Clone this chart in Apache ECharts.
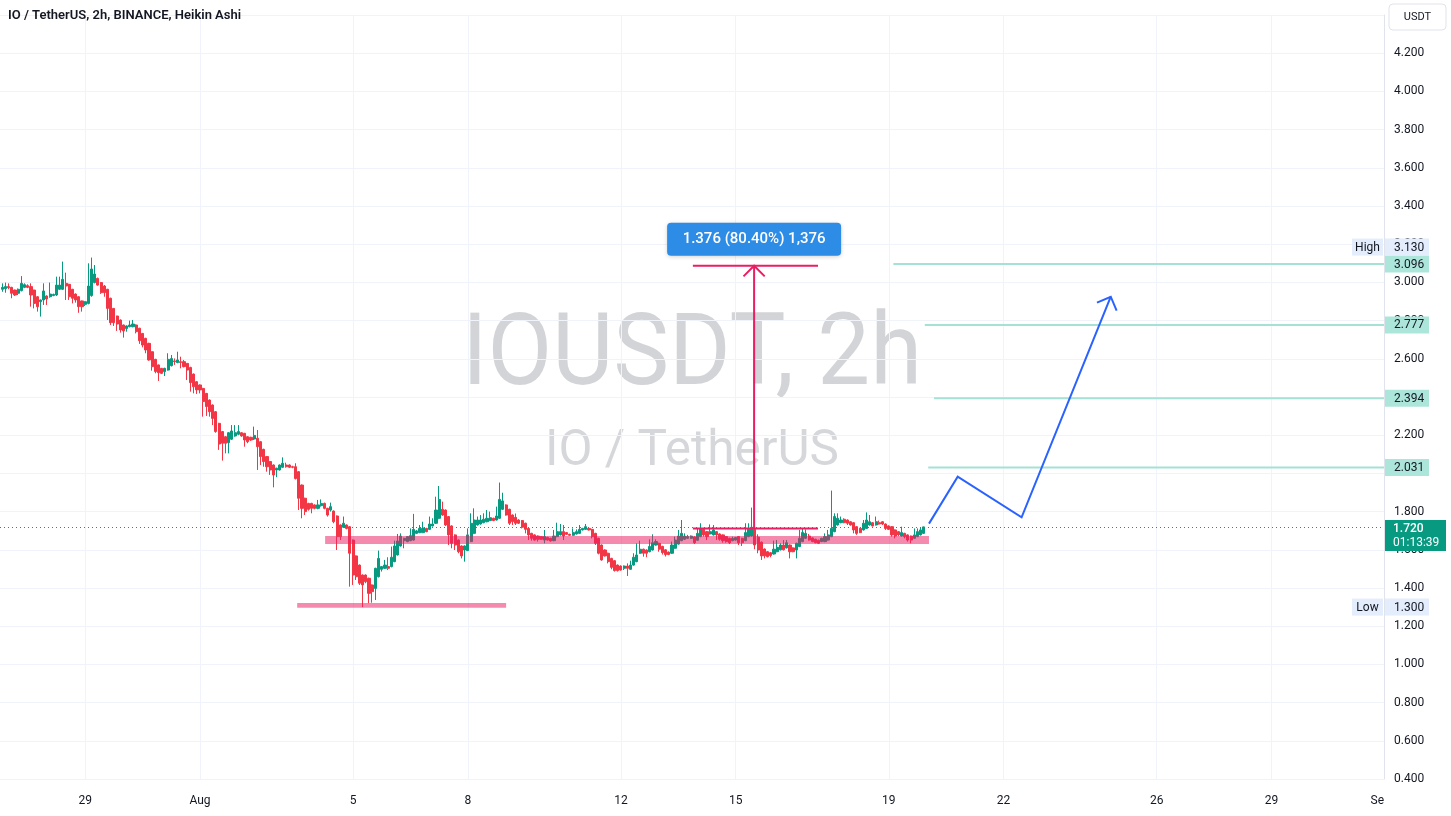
<!DOCTYPE html>
<html>
<head>
<meta charset="utf-8">
<script src="https://cdn.jsdelivr.net/npm/echarts@6/dist/echarts.min.js"></script>
<style>
html,body{margin:0;padding:0;background:#ffffff;}
#chart{width:1451px;height:816px;}
</style>
</head>
<body>
<div id="chart"></div>
<script>
// ---------------- DATA ----------------
// x values are days relative to Aug 1 00:00; first bar = Jul 26 20:00, 2h bars
const firstBarDay = -31 / 6;
const barStepDays = 1 / 12;

// Heikin Ashi bars [open, close, low, high]
const barsSeg1 = [
[2.964,2.974,2.951,2.995],[2.967,2.978,2.946,2.999],[2.978,2.972,2.964,2.995],[2.974,2.943,2.917,2.977],
[2.960,2.934,2.929,2.962],[2.943,2.964,2.934,2.968],[2.957,2.995,2.953,3.033],[2.974,2.988,2.970,2.995],
[2.983,2.974,2.970,2.990],[2.978,2.934,2.873,2.995],[2.960,2.890,2.864,2.962],[2.925,2.873,2.847,2.928],
[2.899,2.908,2.821,2.910],[2.908,2.955,2.882,2.995],[2.929,2.913,2.882,2.932],[2.925,2.939,2.920,2.999],
[2.931,2.937,2.928,2.941],[2.934,2.986,2.929,3.030],[2.964,2.986,2.960,3.030],[2.964,3.016,2.960,3.109],
[2.995,2.981,2.908,3.051],[2.990,2.925,2.908,2.993],[2.964,2.917,2.890,2.966],[2.939,2.908,2.894,2.942],
[2.925,2.873,2.841,2.928],[2.903,2.873,2.847,2.905],[2.885,2.899,2.876,2.902],[2.890,2.981,2.885,3.100],
[2.931,3.070,2.925,3.130],[2.999,3.044,2.995,3.091],[3.021,2.986,2.983,3.025],[2.999,2.946,2.940,3.002],
[2.981,2.946,2.925,2.986],[2.964,2.864,2.803,2.966],[2.917,2.789,2.777,2.920],[2.864,2.789,2.772,2.866],
[2.824,2.782,2.746,2.826],[2.803,2.751,2.737,2.806],[2.777,2.746,2.711,2.779],[2.758,2.772,2.742,2.775],
[2.768,2.777,2.765,2.800],[2.768,2.782,2.765,2.803],[2.777,2.742,2.733,2.780],[2.760,2.695,2.678,2.762],
[2.733,2.672,2.660,2.735],[2.707,2.646,2.629,2.710],[2.681,2.594,2.590,2.684],[2.637,2.559,2.538,2.640],
[2.597,2.533,2.524,2.600],[2.568,2.527,2.484,2.570],[2.550,2.524,2.520,2.552],[2.533,2.550,2.510,2.553],
[2.541,2.597,2.538,2.629],[2.564,2.601,2.560,2.620],[2.589,2.585,2.568,2.602],[2.580,2.594,2.577,2.637],
[2.585,2.580,2.550,2.611],[2.585,2.559,2.555,2.594],[2.576,2.541,2.489,2.578],[2.555,2.475,2.428,2.558],
[2.520,2.454,2.419,2.523],[2.480,2.437,2.416,2.483],[2.463,2.437,2.419,2.466],[2.445,2.376,2.297,2.448],
[2.419,2.350,2.301,2.421],[2.384,2.323,2.297,2.387],[2.358,2.288,2.253,2.361],[2.323,2.219,2.213,2.326],
[2.262,2.154,2.123,2.265],[2.219,2.158,2.067,2.222],[2.192,2.158,2.105,2.195],[2.161,2.213,2.105,2.216],
[2.179,2.222,2.175,2.253],[2.196,2.213,2.192,2.253],[2.205,2.219,2.200,2.253],[2.213,2.196,2.192,2.216],
[2.210,2.175,2.140,2.212],[2.192,2.166,2.158,2.195],[2.189,2.175,2.170,2.192],[2.180,2.199,2.175,2.245],
[2.184,2.140,2.018,2.227],[2.166,2.088,2.044,2.169],[2.126,2.062,2.035,2.129],[2.088,2.035,2.009,2.091],
[2.062,2.018,1.992,2.065],[2.044,1.992,1.927,2.047],[2.018,2.027,1.980,2.030],[2.018,2.044,2.015,2.047],
[2.032,2.053,2.029,2.084],[2.044,2.035,2.030,2.056],[2.044,2.032,2.028,2.047],[2.035,2.032,2.027,2.040],
[2.035,1.973,1.968,2.053],[2.009,1.870,1.808,2.012],[1.939,1.817,1.765,1.942],[1.870,1.800,1.782,1.873],
[1.843,1.812,1.805,1.846],[1.843,1.817,1.791,1.846],[1.835,1.817,1.812,1.838],[1.817,1.835,1.812,1.861]
];
const barsSeg2 = [
[1.831,1.843,1.826,1.864],[1.843,1.817,1.812,1.847],[1.817,1.782,1.774,1.820],[1.808,1.826,1.800,1.847],
[1.803,1.747,1.739,1.806],[1.777,1.669,1.599,1.780],[1.730,1.669,1.651,1.733],[1.718,1.739,1.714,1.774],
[1.730,1.712,1.707,1.733],[1.721,1.582,1.407,1.724],[1.651,1.468,1.416,1.654],[1.568,1.459,1.442,1.571],
[1.520,1.425,1.416,1.523],[1.468,1.416,1.300,1.471],[1.468,1.433,1.425,1.471],[1.451,1.372,1.320,1.454],
[1.416,1.381,1.323,1.419],[1.398,1.503,1.337,1.506],[1.459,1.555,1.455,1.596],[1.498,1.512,1.486,1.515],
[1.503,1.520,1.500,1.547],[1.512,1.503,1.494,1.561],[1.512,1.561,1.508,1.617],[1.538,1.620,1.535,1.648],
[1.573,1.646,1.570,1.683],[1.620,1.672,1.617,1.686],[1.648,1.660,1.608,1.663],[1.643,1.669,1.640,1.672],
[1.648,1.674,1.645,1.712],[1.651,1.707,1.648,1.788],[1.686,1.699,1.683,1.704],[1.690,1.712,1.687,1.730],
[1.690,1.714,1.687,1.747],[1.712,1.695,1.692,1.715],[1.707,1.735,1.704,1.774],[1.725,1.735,1.722,1.765],
[1.739,1.808,1.735,1.878],[1.765,1.864,1.760,1.934],[1.812,1.782,1.778,1.852],[1.808,1.730,1.725,1.811],
[1.774,1.678,1.625,1.777],[1.725,1.634,1.608,1.728],[1.678,1.625,1.599,1.681],[1.651,1.590,1.582,1.654],
[1.620,1.568,1.555,1.623],[1.599,1.620,1.538,1.623],[1.596,1.678,1.593,1.712],[1.643,1.739,1.640,1.791],
[1.686,1.756,1.683,1.817],[1.730,1.756,1.727,1.774],[1.735,1.756,1.732,1.782],[1.742,1.760,1.739,1.791],
[1.747,1.765,1.744,1.808],[1.753,1.768,1.750,1.800],[1.765,1.753,1.750,1.768],[1.756,1.777,1.753,1.826],
[1.765,1.864,1.762,1.952],[1.812,1.856,1.808,1.899],[1.835,1.782,1.779,1.838],[1.812,1.739,1.730,1.815],
[1.782,1.747,1.730,1.785],[1.770,1.739,1.730,1.790],[1.756,1.739,1.735,1.760],[1.753,1.718,1.712,1.756],
[1.739,1.707,1.686,1.742],[1.712,1.678,1.651,1.715],[1.686,1.660,1.648,1.689],[1.678,1.651,1.648,1.681],
[1.672,1.655,1.643,1.675],[1.669,1.655,1.652,1.672],[1.651,1.669,1.634,1.704],[1.665,1.651,1.648,1.668],
[1.660,1.646,1.643,1.663],[1.648,1.672,1.645,1.704],[1.669,1.695,1.666,1.742],[1.678,1.695,1.675,1.735],
[1.695,1.672,1.651,1.730],[1.690,1.681,1.678,1.693],[1.681,1.676,1.673,1.684],[1.676,1.690,1.673,1.712],
[1.683,1.695,1.680,1.707],[1.686,1.707,1.683,1.730],[1.704,1.712,1.701,1.715],[1.707,1.721,1.704,1.735],
[1.712,1.704,1.701,1.715],[1.707,1.669,1.660,1.710],[1.686,1.634,1.625,1.689],[1.660,1.582,1.576,1.663],
[1.625,1.547,1.543,1.628],[1.599,1.568,1.565,1.602],[1.582,1.538,1.529,1.585],[1.555,1.508,1.498,1.558],
[1.543,1.491,1.486,1.546],[1.520,1.491,1.486,1.523],[1.515,1.494,1.491,1.518],[1.503,1.515,1.494,1.518],
[1.515,1.503,1.463,1.529],[1.498,1.520,1.495,1.543],[1.520,1.561,1.517,1.582],[1.538,1.573,1.535,1.634]
];
const barsSeg3 = [
[1.582,1.603,1.579,1.648],[1.603,1.582,1.564,1.606],[1.599,1.582,1.561,1.602],[1.590,1.617,1.587,1.655],
[1.599,1.637,1.596,1.681],[1.625,1.643,1.622,1.655],[1.634,1.603,1.590,1.637],[1.618,1.585,1.575,1.621],
[1.600,1.575,1.565,1.603],[1.588,1.575,1.572,1.591],[1.582,1.625,1.579,1.643],[1.608,1.651,1.605,1.669],
[1.630,1.672,1.627,1.704],[1.648,1.686,1.645,1.756],[1.655,1.672,1.652,1.686],[1.660,1.669,1.657,1.678],
[1.660,1.672,1.657,1.675],[1.667,1.637,1.630,1.670],[1.650,1.686,1.647,1.712],[1.669,1.712,1.666,1.739],
[1.707,1.678,1.669,1.710],[1.695,1.669,1.651,1.698],[1.683,1.695,1.680,1.733],[1.678,1.704,1.675,1.730],
[1.695,1.678,1.651,1.698],[1.683,1.655,1.648,1.686],[1.678,1.648,1.637,1.681],[1.669,1.643,1.637,1.672],
[1.660,1.637,1.630,1.663],[1.648,1.660,1.645,1.669],[1.651,1.664,1.648,1.667],[1.669,1.637,1.625,1.672],
[1.660,1.637,1.620,1.663],[1.648,1.690,1.645,1.739],[1.669,1.707,1.666,1.739],[1.672,1.718,1.669,1.821],
[1.707,1.625,1.603,1.710],[1.666,1.599,1.582,1.681],[1.640,1.568,1.547,1.643],[1.604,1.568,1.555,1.607],
[1.590,1.564,1.560,1.593],[1.585,1.570,1.561,1.588],[1.578,1.603,1.575,1.648],[1.590,1.613,1.587,1.651],
[1.600,1.625,1.597,1.634],[1.625,1.600,1.597,1.651],[1.610,1.637,1.607,1.651],[1.625,1.590,1.555,1.628],
[1.610,1.590,1.587,1.613],[1.599,1.634,1.555,1.637],[1.617,1.660,1.614,1.704],[1.643,1.690,1.640,1.712],
[1.660,1.686,1.657,1.707],[1.672,1.651,1.648,1.683],[1.662,1.643,1.640,1.665],[1.655,1.637,1.634,1.658],
[1.650,1.634,1.630,1.653],[1.643,1.660,1.640,1.663],[1.643,1.669,1.640,1.686],[1.651,1.678,1.648,1.704],
[1.669,1.712,1.666,1.910],[1.695,1.774,1.692,1.791],[1.730,1.765,1.727,1.791],[1.742,1.756,1.739,1.774],
[1.760,1.742,1.739,1.765],[1.756,1.739,1.730,1.759],[1.747,1.730,1.727,1.750],[1.742,1.704,1.686,1.745],
[1.721,1.686,1.678,1.724],[1.712,1.690,1.687,1.715],[1.704,1.739,1.701,1.756],[1.712,1.756,1.709,1.796],
[1.730,1.747,1.727,1.782],[1.742,1.725,1.722,1.745],[1.730,1.747,1.727,1.774],[1.742,1.735,1.732,1.753],
[1.747,1.735,1.730,1.750],[1.735,1.712,1.704,1.738],[1.725,1.707,1.704,1.728],[1.721,1.678,1.669,1.724],
[1.704,1.672,1.660,1.707],[1.695,1.678,1.672,1.698],[1.672,1.690,1.669,1.721],[1.686,1.669,1.660,1.689],
[1.678,1.651,1.643,1.681],[1.672,1.651,1.634,1.675],[1.660,1.678,1.657,1.712],[1.669,1.695,1.666,1.712],
[1.678,1.704,1.675,1.718],[1.686,1.720,1.683,1.721]
];

// Axis ticks
const xTickDays = [-3, 0, 4, 7, 11, 14, 18, 21, 25, 28];
const xTickLabels = ['29', 'Aug', '5', '8', '12', '15', '19', '22', '26', '29'];
const xRangeDays = [-5.226, 30.94];
const yRange = [0.4, 4.4];
const yStep = 0.2;

// Annotations
const levelPrices = [3.096, 2.777, 2.394, 2.031];
const levelStartDays = [18.12, 18.94, 19.18, 19.03];
// [fromDay, toDay, lowPrice, highPrice]
const zones = [[3.27, 19.05, 1.630, 1.672], [2.54, 8.00, 1.297, 1.321]];
const measureDays = [12.88, 14.48, 16.15];
const measurePrices = [1.711, 3.087];
const measureLabel = '1.376 (80.40%) 1,376';
const forecastDays = [19.05, 19.80, 21.47, 23.80];
const forecastPrices = [1.737, 1.983, 1.770, 2.925];
const lastPrice = 1.720;
const countdown = '01:13:39';
const highPrice = 3.130;
const lowPrice = 1.300;
const titleText = 'IO / TetherUS, 2h, BINANCE, Heikin Ashi';
const watermark1 = 'IOUSDT, 2h';
const watermark2 = 'IO / TetherUS';
const currency = 'USDT';

// ---------------- CHART ----------------
const FONT = 'Roboto, "Liberation Sans", sans-serif';
const UP = '#089981', DOWN = '#f23645', PINK = '#e91e63';
const allBars = barsSeg1.concat(barsSeg2, barsSeg3);
const candleData = allBars.map((b, i) => [firstBarDay + i * barStepDays, b[0], b[1], b[2], b[3]]);

const chart = echarts.init(document.getElementById('chart'), null, {renderer: 'canvas'});

function arrowHead(tip, from, len) {
  const dx = from[0] - tip[0], dy = from[1] - tip[1];
  const d = Math.hypot(dx, dy) || 1;
  const ux = dx / d, uy = dy / d;
  const c = Math.cos(Math.PI / 4), s = Math.sin(Math.PI / 4);
  const a1 = [tip[0] + len * (ux * c - uy * s), tip[1] + len * (ux * s + uy * c)];
  const a2 = [tip[0] + len * (ux * c + uy * s), tip[1] + len * (-ux * s + uy * c)];
  return [a1, tip, a2];
}

const option = {
  animation: false,
  backgroundColor: '#ffffff',
  textStyle: {fontFamily: FONT},
  grid: {left: 0, right: 67, top: 15, bottom: 37, containLabel: false},
  xAxis: {
    type: 'value', min: xRangeDays[0], max: xRangeDays[1],
    axisLine: {show: false, onZero: false},
    axisTick: {show: false, customValues: xTickDays},
    splitLine: {show: true, lineStyle: {color: '#f0f3fa', width: 1}},
    axisLabel: {
      customValues: xTickDays, color: '#131722', fontSize: 12, margin: 16, fontFamily: FONT,
      formatter: v => { const k = xTickDays.findIndex(t => Math.abs(t - v) < 1e-6); return k >= 0 ? xTickLabels[k] : ''; }
    }
  },
  yAxis: {
    type: 'value', position: 'right', min: yRange[0], max: yRange[1], interval: yStep,
    axisLine: {show: true, onZero: false, lineStyle: {color: '#e0e3eb'}},
    axisTick: {show: false},
    splitLine: {show: true, lineStyle: {color: '#f0f3fa', width: 1}},
    axisLabel: {color: '#131722', fontSize: 12, margin: 10, fontFamily: FONT,
      formatter: v => (v > yRange[1] - yStep / 2 ? '' : v.toFixed(3))}
  },
  series: [
    {
      type: 'candlestick', z: 2, barWidth: 2.6,
      itemStyle: {color: UP, color0: DOWN, borderColor: UP, borderColor0: DOWN, borderWidth: 1},
      data: candleData,
      markLine: {
        silent: true, symbol: 'none', label: {show: false},
        lineStyle: {color: UP, type: [1, 3], width: 1},
        data: [{yAxis: lastPrice}]
      }
    },
    {
      type: 'custom', z: 4, silent: true,
      encode: {x: [0, 1], y: [2, 3]},
      data: zones,
      renderItem: (params, api) => {
        const p0 = api.coord([api.value(0), api.value(3)]);
        const p1 = api.coord([api.value(1), api.value(2)]);
        return {type: 'rect', shape: {x: p0[0], y: p0[1], width: p1[0] - p0[0], height: p1[1] - p0[1]},
          style: {fill: 'rgba(233,30,99,0.52)'}};
      }
    },
    {
      type: 'custom', z: 3, silent: true,
      encode: {x: 0, y: 1},
      data: levelPrices.map((p, i) => [levelStartDays[i], p]),
      renderItem: (params, api) => {
        const p0 = api.coord([api.value(0), api.value(1)]);
        const right = params.coordSys.x + params.coordSys.width;
        return {type: 'line', shape: {x1: p0[0], y1: p0[1], x2: right, y2: p0[1]},
          style: {stroke: '#a6e1d6', lineWidth: 2}};
      }
    },
    {
      type: 'custom', z: 5, silent: true, clip: false,
      encode: {x: 0, y: 1},
      data: [[measureDays[1], measurePrices[1]]],
      renderItem: (params, api) => {
        const bl = api.coord([measureDays[0], measurePrices[0]]);
        const br = api.coord([measureDays[2], measurePrices[0]]);
        const tl = api.coord([measureDays[0], measurePrices[1]]);
        const tr = api.coord([measureDays[2], measurePrices[1]]);
        const mb = api.coord([measureDays[1], measurePrices[0]]);
        const mt = api.coord([measureDays[1], measurePrices[1]]);
        const st = {stroke: PINK, lineWidth: 2, fill: null};
        const head = arrowHead(mt, mb, 15);
        const boxW = 174, boxH = 33;
        return {type: 'group', children: [
          {type: 'line', shape: {x1: bl[0], y1: bl[1], x2: br[0], y2: br[1]}, style: st},
          {type: 'line', shape: {x1: tl[0], y1: tl[1], x2: tr[0], y2: tr[1]}, style: st},
          {type: 'line', shape: {x1: mb[0], y1: mb[1], x2: mt[0], y2: mt[1]}, style: st},
          {type: 'polyline', shape: {points: head}, style: st},
          {type: 'rect', shape: {x: mt[0] - boxW / 2, y: mt[1] - 10 - boxH, width: boxW, height: boxH, r: 4},
            style: {fill: '#2d8ce6', shadowBlur: 4, shadowColor: 'rgba(0,0,0,0.18)', shadowOffsetY: 1}},
          {type: 'text', style: {text: measureLabel, x: mt[0], y: mt[1] - 10 - boxH / 2,
            align: 'center', verticalAlign: 'middle', fill: '#ffffff', font: '500 15px ' + FONT}}
        ]};
      }
    },
    {
      type: 'custom', z: 5, silent: true, clip: false,
      encode: {x: 0, y: 1},
      data: [[forecastDays[0], forecastPrices[0]]],
      renderItem: (params, api) => {
        const pts = forecastDays.map((d, i) => api.coord([d, forecastPrices[i]]));
        const n = pts.length;
        const head = arrowHead(pts[n - 1], pts[n - 2], 15);
        const st = {stroke: '#2962ff', lineWidth: 2, fill: null, lineJoin: 'miter'};
        return {type: 'group', children: [
          {type: 'polyline', shape: {points: pts}, style: st},
          {type: 'polyline', shape: {points: head}, style: st}
        ]};
      }
    }
  ]
};

chart.setOption(option);

// Overlays positioned through the chart's own scales
const yPx = p => chart.convertToPixel({yAxisIndex: 0}, p);
const xPx = d => chart.convertToPixel({xAxisIndex: 0}, d);
const axisX = xPx(xRangeDays[1]);
const els = [];

function badge(text, yc, bg, fg, x, w) {
  els.push({type: 'rect', z: 100, shape: {x: x, y: yc - 8.5, width: w, height: 17}, style: {fill: bg}});
  els.push({type: 'text', z: 101, style: {text: text, x: x + 9, y: yc + 0.5, align: 'left', verticalAlign: 'middle',
    fill: fg, font: '12px ' + FONT}});
}

// watermark
const wmX = (xPx(xRangeDays[0]) + axisX) / 2;
els.push({type: 'text', z: -1, x: wmX, y: yPx(2.601), scaleX: 0.94,
  style: {text: watermark1, x: 0, y: 0, align: 'center', verticalAlign: 'middle', fill: 'rgba(120,123,134,0.33)', font: '100px ' + FONT}});
els.push({type: 'text', z: -1,
  style: {text: watermark2, x: wmX, y: yPx(2.107), align: 'center', verticalAlign: 'middle', fill: 'rgba(120,123,134,0.30)', font: '49.5px ' + FONT}});

// title
els.push({type: 'text', z: 100, style: {text: titleText, x: 8, y: 16, align: 'left', verticalAlign: 'middle',
  fill: '#131722', font: '600 13px ' + FONT}});

// level badges
levelPrices.forEach(p => badge(p.toFixed(3), yPx(p), '#ace5da', '#131722', axisX + 1, 44));

// High / Low
const highY = Math.min(yPx(highPrice), yPx(levelPrices[0]) - 17);
badge(highPrice.toFixed(3), highY, '#e3edfc', '#131722', axisX + 1, 44);
els.push({type: 'rect', z: 100, shape: {x: axisX - 32, y: highY - 8.5, width: 31, height: 17}, style: {fill: '#e3edfc'}});
els.push({type: 'text', z: 101, style: {text: 'High', x: axisX - 16.5, y: highY + 0.5, align: 'center', verticalAlign: 'middle', fill: '#131722', font: '12px ' + FONT}});
const lowY = yPx(lowPrice);
badge(lowPrice.toFixed(3), lowY, '#e3edfc', '#131722', axisX + 1, 44);
els.push({type: 'rect', z: 100, shape: {x: axisX - 32, y: lowY - 8.5, width: 31, height: 17}, style: {fill: '#e3edfc'}});
els.push({type: 'text', z: 101, style: {text: 'Low', x: axisX - 16.5, y: lowY + 0.5, align: 'center', verticalAlign: 'middle', fill: '#131722', font: '12px ' + FONT}});

// last price badge
const lpY = yPx(lastPrice);
els.push({type: 'rect', z: 100, shape: {x: axisX + 1, y: lpY - 7, width: 61, height: 31}, style: {fill: UP}});
els.push({type: 'text', z: 101, style: {text: lastPrice.toFixed(3), x: axisX + 9, y: lpY + 2, align: 'left', verticalAlign: 'middle', fill: '#ffffff', font: '500 12px ' + FONT}});
els.push({type: 'text', z: 101, style: {text: countdown, x: axisX + 9, y: lpY + 16, align: 'left', verticalAlign: 'middle', fill: '#ffffff', font: '12px ' + FONT}});

// currency box
els.push({type: 'rect', z: 100, shape: {x: axisX + 5, y: 4, width: 57, height: 26, r: 4}, style: {fill: '#ffffff', stroke: '#e0e3eb', lineWidth: 1}});
els.push({type: 'text', z: 101, style: {text: currency, x: axisX + 33.5, y: 17.5, align: 'center', verticalAlign: 'middle', fill: '#131722', font: '11px ' + FONT}});

// clipped "Sep" label at the right end of the time scale
els.push({type: 'text', z: 100, style: {text: 'Se', x: axisX, y: 801, align: 'right', verticalAlign: 'middle', fill: '#131722', font: '12px ' + FONT}});

chart.setOption({graphic: {elements: els}});
</script>
</body>
</html>
